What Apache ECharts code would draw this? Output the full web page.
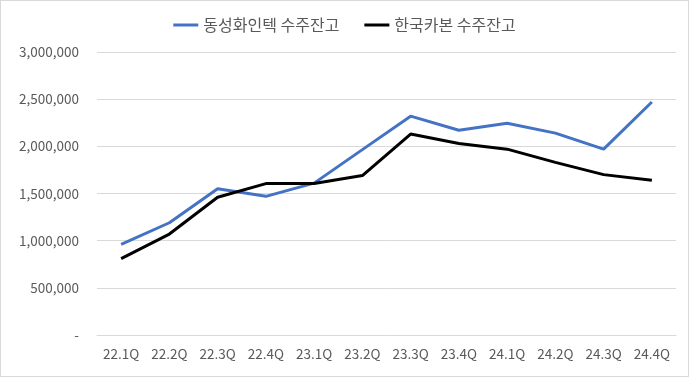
<!DOCTYPE html>
<html>
<head>
<meta charset="utf-8">
<title>수주잔고</title>
<style>
  html, body { margin: 0; padding: 0; background: #fff; }
  #main { width: 689px; height: 377px; box-sizing: border-box; border: 1px solid #d9d9d9; }
</style>
</head>
<body>
<div id="main"></div>
<script src="https://cdn.jsdelivr.net/npm/echarts@6/dist/echarts.min.js"></script>
<script>
  // 분기
  var quarters = ['22.1Q', '22.2Q', '22.3Q', '22.4Q', '23.1Q', '23.2Q', '23.3Q', '23.4Q', '24.1Q', '24.2Q', '24.3Q', '24.4Q'];
  // 동성화인텍 수주잔고
  var dongsung = [960000, 1190000, 1550000, 1470000, 1610000, 1965000, 2320000, 2170000, 2245000, 2140000, 1970000, 2470000];
  // 한국카본 수주잔고
  var hankuk = [810000, 1070000, 1460000, 1605000, 1605000, 1690000, 2130000, 2030000, 1970000, 1830000, 1700000, 1640000];

  var font = "'Noto Sans CJK KR', 'Noto Sans', sans-serif";
  var chart = echarts.init(document.getElementById('main'));
  chart.setOption({
    animation: false,
    textStyle: { fontFamily: font },
    legend: {
      top: 11,
      left: 'center',
      itemWidth: 25,
      itemHeight: 3,
      itemGap: 25,
      icon: 'rect',
      textStyle: { fontSize: 16, color: '#595959', fontFamily: font },
      data: ['동성화인텍 수주잔고', '한국카본 수주잔고']
    },
    grid: { left: 96, right: 12, top: 51, bottom: 41 },
    xAxis: {
      type: 'category',
      data: quarters,
      axisLine: { lineStyle: { color: '#d9d9d9' } },
      axisTick: { show: false },
      axisLabel: { color: '#595959', fontSize: 13.5, margin: 12, fontFamily: font }
    },
    yAxis: {
      type: 'value',
      min: 0,
      max: 3000000,
      interval: 500000,
      axisLine: { show: false },
      axisTick: { show: false },
      splitLine: { lineStyle: { color: '#d9d9d9' } },
      axisLabel: {
        color: '#595959', fontSize: 13.5, margin: 18, fontFamily: font,
        formatter: function (v) { return v === 0 ? '-' : v.toLocaleString('en-US'); }
      }
    },
    series: [
      {
        name: '동성화인텍 수주잔고', type: 'line', data: dongsung,
        showSymbol: false, symbol: 'none',
        itemStyle: { color: '#4472c4' },
        lineStyle: { color: '#4472c4', width: 3 }
      },
      {
        name: '한국카본 수주잔고', type: 'line', data: hankuk,
        showSymbol: false, symbol: 'none',
        itemStyle: { color: '#000000' },
        lineStyle: { color: '#000000', width: 3 }
      }
    ]
  });
</script>
</body>
</html>
